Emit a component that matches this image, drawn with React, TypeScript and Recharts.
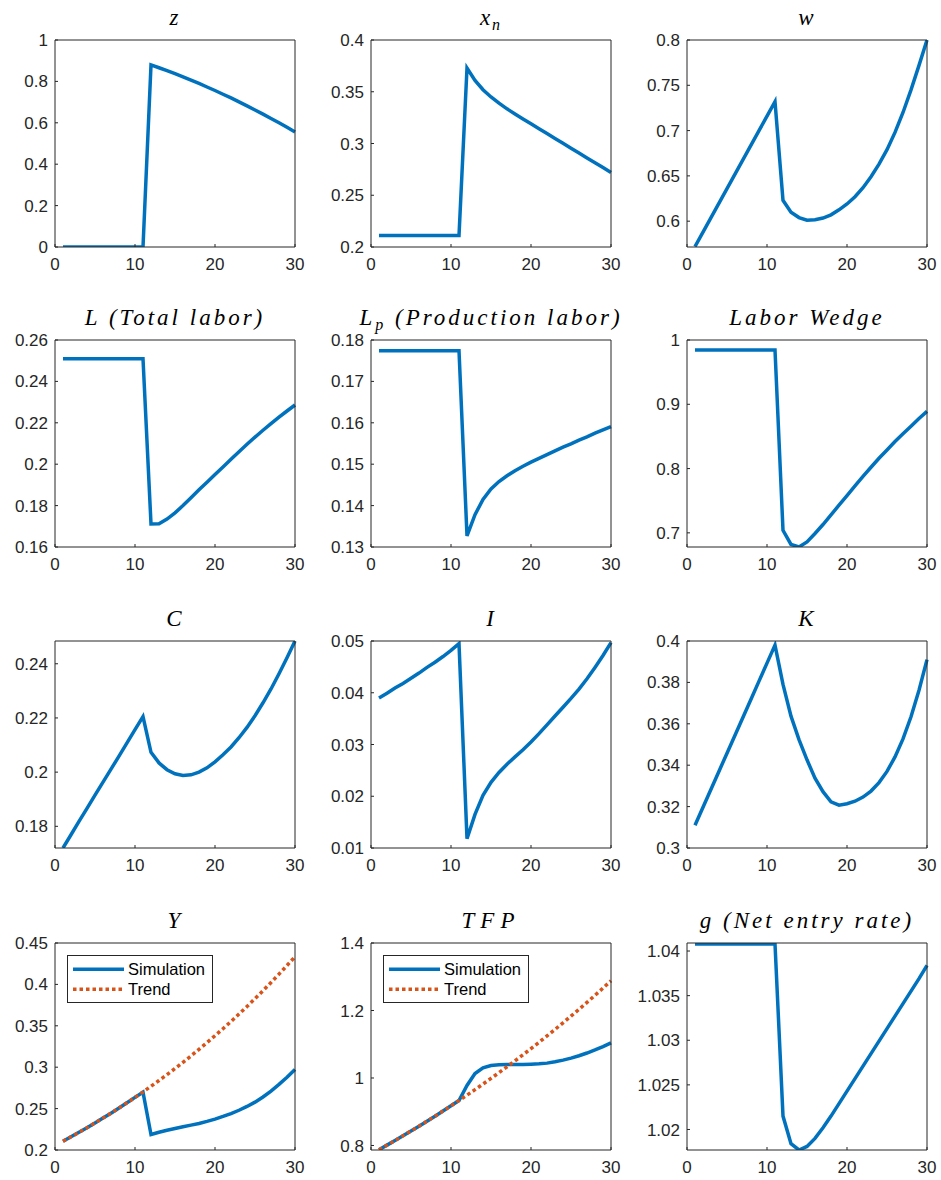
import React from 'react';
import { LineChart, Line, XAxis, YAxis, Legend } from 'recharts';

// ---------- data ----------
const periods = [1, 2, 3, 4, 5, 6, 7, 8, 9, 10, 11, 12, 13, 14, 15, 16, 17, 18, 19, 20, 21, 22, 23, 24, 25, 26, 27, 28, 29, 30];

const zVals = [0, 0, 0, 0, 0, 0, 0, 0, 0, 0, 0, 0.880, 0.866, 0.852, 0.837, 0.822, 0.806, 0.790, 0.773, 0.756, 0.738, 0.720, 0.701, 0.682, 0.662, 0.642, 0.621, 0.600, 0.578, 0.556];
const xnVals = [0.211, 0.211, 0.211, 0.211, 0.211, 0.211, 0.211, 0.211, 0.211, 0.211, 0.211, 0.373, 0.361, 0.352, 0.345, 0.339, 0.3335, 0.3285, 0.3237, 0.319, 0.3143, 0.3096, 0.3049, 0.3002, 0.2955, 0.2908, 0.2861, 0.2814, 0.2767, 0.272];
const wVals = [0.572, 0.588, 0.604, 0.620, 0.636, 0.652, 0.668, 0.684, 0.700, 0.716, 0.732, 0.623, 0.610, 0.604, 0.601, 0.6015, 0.6035, 0.607, 0.6125, 0.619, 0.627, 0.637, 0.649, 0.663, 0.679, 0.698, 0.720, 0.745, 0.772, 0.800];
const lVals = [0.251, 0.251, 0.251, 0.251, 0.251, 0.251, 0.251, 0.251, 0.251, 0.251, 0.251, 0.1711, 0.1712, 0.1735, 0.1765, 0.1800, 0.1838, 0.1876, 0.1913, 0.1950, 0.1987, 0.2024, 0.2060, 0.2096, 0.2131, 0.2164, 0.2196, 0.2227, 0.2257, 0.2286];
const lpVals = [0.1774, 0.1774, 0.1774, 0.1774, 0.1774, 0.1774, 0.1774, 0.1774, 0.1774, 0.1774, 0.1774, 0.1327, 0.1378, 0.1415, 0.1440, 0.1458, 0.1472, 0.1484, 0.1495, 0.1505, 0.1514, 0.1523, 0.1532, 0.1541, 0.1549, 0.1558, 0.1566, 0.1575, 0.1583, 0.1591];
const wedgeVals = [0.9845, 0.9845, 0.9845, 0.9845, 0.9845, 0.9845, 0.9845, 0.9845, 0.9845, 0.9845, 0.9845, 0.704, 0.682, 0.678, 0.686, 0.699, 0.713, 0.728, 0.743, 0.758, 0.773, 0.788, 0.802, 0.816, 0.829, 0.842, 0.854, 0.866, 0.878, 0.889];
const cVals = [0.172, 0.1769, 0.1818, 0.1866, 0.1915, 0.1963, 0.2011, 0.2059, 0.2108, 0.2157, 0.2205, 0.2073, 0.2034, 0.2009, 0.1994, 0.1988, 0.1990, 0.2000, 0.2016, 0.2038, 0.2064, 0.2093, 0.2127, 0.2165, 0.2208, 0.2256, 0.2307, 0.2363, 0.2422, 0.2484];
const iVals = [0.0390, 0.0399, 0.0409, 0.0418, 0.0428, 0.0438, 0.0449, 0.0459, 0.0470, 0.0482, 0.0495, 0.0118, 0.0165, 0.0202, 0.0227, 0.0246, 0.0262, 0.0276, 0.0290, 0.0305, 0.0321, 0.0338, 0.0355, 0.0372, 0.0389, 0.0407, 0.0427, 0.0449, 0.0472, 0.0497];
const kVals = [0.311, 0.3197, 0.3284, 0.3371, 0.3458, 0.3545, 0.3632, 0.3719, 0.3806, 0.3893, 0.398, 0.379, 0.3637, 0.3524, 0.3426, 0.3337, 0.3272, 0.3223, 0.3207, 0.3214, 0.3226, 0.3246, 0.3275, 0.3316, 0.3370, 0.3440, 0.3527, 0.3634, 0.3762, 0.391];
const ySimVals = [0.2106, 0.2159, 0.2214, 0.2269, 0.2327, 0.2385, 0.2445, 0.2507, 0.2570, 0.2635, 0.2698, 0.2187, 0.2215, 0.2238, 0.2260, 0.2280, 0.2300, 0.2320, 0.2345, 0.2373, 0.2405, 0.2440, 0.2480, 0.2526, 0.2578, 0.2640, 0.2712, 0.2792, 0.2878, 0.2973];
const yTrendVals = [0.2106, 0.2159, 0.2214, 0.2269, 0.2327, 0.2385, 0.2445, 0.2507, 0.2570, 0.2635, 0.2701, 0.2769, 0.2839, 0.2911, 0.2984, 0.3059, 0.3136, 0.3216, 0.3297, 0.3380, 0.3465, 0.3552, 0.3642, 0.3733, 0.3828, 0.3924, 0.4023, 0.4124, 0.4228, 0.4335];
const tfpSimVals = [0.7876, 0.8011, 0.8148, 0.8287, 0.8429, 0.8573, 0.8720, 0.8869, 0.9021, 0.9175, 0.9332, 0.978, 1.013, 1.030, 1.037, 1.039, 1.040, 1.040, 1.040, 1.041, 1.042, 1.044, 1.048, 1.053, 1.059, 1.066, 1.074, 1.083, 1.093, 1.104];
const tfpTrendVals = [0.7876, 0.8011, 0.8148, 0.8287, 0.8429, 0.8573, 0.8720, 0.8869, 0.9021, 0.9175, 0.9332, 0.9492, 0.9654, 0.9819, 0.9987, 1.0158, 1.0332, 1.0508, 1.0688, 1.0871, 1.1057, 1.1246, 1.1438, 1.1634, 1.1833, 1.2035, 1.2241, 1.2450, 1.2663, 1.2880];
const gVals = [1.0408, 1.0408, 1.0408, 1.0408, 1.0408, 1.0408, 1.0408, 1.0408, 1.0408, 1.0408, 1.0408, 1.0215, 1.0184, 1.0177, 1.0181, 1.0190, 1.0202, 1.0215, 1.0229, 1.0243, 1.0257, 1.0271, 1.0285, 1.0299, 1.0313, 1.0327, 1.0341, 1.0355, 1.0369, 1.0384];

const xTicks = [0, 10, 20, 30];
const zTicks = [0, 0.2, 0.4, 0.6, 0.8, 1];
const xnTicks = [0.2, 0.25, 0.3, 0.35, 0.4];
const wTicks = [0.6, 0.65, 0.7, 0.75, 0.8];
const lTicks = [0.16, 0.18, 0.2, 0.22, 0.24, 0.26];
const lpTicks = [0.13, 0.14, 0.15, 0.16, 0.17, 0.18];
const wedgeTicks = [0.7, 0.8, 0.9, 1];
const cTicks = [0.18, 0.2, 0.22, 0.24];
const iTicks = [0.01, 0.02, 0.03, 0.04, 0.05];
const kTicks = [0.3, 0.32, 0.34, 0.36, 0.38, 0.4];
const yTicks = [0.2, 0.25, 0.3, 0.35, 0.4, 0.45];
const tfpTicks = [0.8, 1, 1.2, 1.4];
const gTicks = [1.02, 1.025, 1.03, 1.035, 1.04];

const legendNames = ['Simulation', 'Trend'];

// ---------- styling ----------
const BLUE = '#0072BD';
const ORANGE = '#D95319';
const AXIS = '#262626';
const SANS = '"Liberation Sans", Arial, Helvetica, sans-serif';
const SERIF = '"Liberation Serif", "Times New Roman", serif';

const COL_LEFT = [55, 371, 687];
const ROW_TOP = [40, 340, 641, 943];
const PLOT_W = 240;
const PLOT_H = 207;
const Y_AXIS_W = 55;
const X_AXIS_H = 30;
const TITLE_SPACE = 40;
const RIGHT_PAD = 10;
const CHART_W = Y_AXIS_W + PLOT_W + RIGHT_PAD;
const CHART_H = TITLE_SPACE + PLOT_H + X_AXIS_H;

type PanelDef = {
  id: string;
  title: React.ReactNode;
  ls: number;
  values: number[];
  trend?: number[];
  domain: [number, number];
  ticks: number[];
  col: number;
  row: number;
};

const sub = (s: string) => (
  <span style={{ fontSize: 16, position: 'relative', top: 5 }}>{s}</span>
);

const panels: PanelDef[] = [
  { id: 'z', title: 'z', ls: 2, values: zVals, domain: [0, 1], ticks: zTicks, col: 0, row: 0 },
  { id: 'xn', title: <>x{sub('n')}</>, ls: 2, values: xnVals, domain: [0.2, 0.4], ticks: xnTicks, col: 1, row: 0 },
  { id: 'w', title: 'w', ls: 2, values: wVals, domain: [0.5715, 0.8], ticks: wTicks, col: 2, row: 0 },
  { id: 'L', title: 'L (Total labor)', ls: 3, values: lVals, domain: [0.16, 0.26], ticks: lTicks, col: 0, row: 1 },
  { id: 'Lp', title: <>L{sub('p')} (Production labor)</>, ls: 3, values: lpVals, domain: [0.13, 0.18], ticks: lpTicks, col: 1, row: 1 },
  { id: 'wedge', title: 'Labor Wedge', ls: 3, values: wedgeVals, domain: [0.678, 1], ticks: wedgeTicks, col: 2, row: 1 },
  { id: 'C', title: 'C', ls: 2, values: cVals, domain: [0.172, 0.2484], ticks: cTicks, col: 0, row: 2 },
  { id: 'I', title: 'I', ls: 2, values: iVals, domain: [0.01, 0.05], ticks: iTicks, col: 1, row: 2 },
  { id: 'K', title: 'K', ls: 2, values: kVals, domain: [0.3, 0.4], ticks: kTicks, col: 2, row: 2 },
  { id: 'Y', title: 'Y', ls: 2, values: ySimVals, trend: yTrendVals, domain: [0.2, 0.45], ticks: yTicks, col: 0, row: 3 },
  { id: 'TFP', title: 'TFP', ls: 6, values: tfpSimVals, trend: tfpTrendVals, domain: [0.7866, 1.4], ticks: tfpTicks, col: 1, row: 3 },
  { id: 'g', title: 'g (Net entry rate)', ls: 3, values: gVals, domain: [1.0177, 1.0409], ticks: gTicks, col: 2, row: 3 },
];

const fmt = (v: number) => String(Number(v.toFixed(4)));

const renderLegend = () => (
  <div
    style={{
      width: 146,
      height: 48,
      border: `1px solid ${AXIS}`,
      background: '#fff',
      boxSizing: 'border-box',
      position: 'relative',
      fontFamily: SANS,
      fontSize: 16.5,
      color: '#000',
    }}
  >
    <svg width={60} height={46} style={{ position: 'absolute', left: 0, top: 0 }}>
      <line x1={5} x2={56} y1={13.3} y2={13.3} stroke={BLUE} strokeWidth={3.5} />
      <line x1={5} x2={56} y1={33.3} y2={33.3} stroke={ORANGE} strokeWidth={3.5} strokeDasharray="3.5 3" />
    </svg>
    <div style={{ position: 'absolute', left: 60, top: 3.3, lineHeight: '20px', whiteSpace: 'nowrap' }}>{legendNames[0]}</div>
    <div style={{ position: 'absolute', left: 60, top: 23.3, lineHeight: '20px', whiteSpace: 'nowrap' }}>{legendNames[1]}</div>
  </div>
);

function Panel({ p }: { p: PanelDef }) {
  const data = periods.map((t, i) => ({
    t,
    sim: p.values[i],
    trend: p.trend ? p.trend[i] : undefined,
  }));
  const left = COL_LEFT[p.col] - Y_AXIS_W;
  const top = ROW_TOP[p.row] - TITLE_SPACE;
  const tickStyle = { fill: AXIS, fontSize: 17, fontFamily: SANS };
  return (
    <div style={{ position: 'absolute', left, top, width: CHART_W, height: CHART_H }}>
      <div
        style={{
          position: 'absolute',
          left: Y_AXIS_W + PLOT_W / 2 - 200,
          width: 400,
          top: 6,
          textAlign: 'center',
          fontFamily: SERIF,
          fontStyle: 'italic',
          fontSize: 23,
          lineHeight: '23px',
          letterSpacing: p.ls,
          whiteSpace: 'nowrap',
          color: '#000',
        }}
      >
        {p.title}
      </div>
      <LineChart
        width={CHART_W}
        height={CHART_H}
        data={data}
        margin={{ top: TITLE_SPACE - 1, right: RIGHT_PAD - 1, bottom: 0, left: 0 }}
      >
        <XAxis
          xAxisId="b"
          dataKey="t"
          type="number"
          domain={[0, 30]}
          ticks={xTicks}
          interval={0}
          height={X_AXIS_H}
          tickSize={-3}
          tickMargin={14}
          stroke={AXIS}
          tick={tickStyle}
        />
        <XAxis
          xAxisId="top"
          orientation="top"
          dataKey="t"
          type="number"
          domain={[0, 30]}
          ticks={xTicks}
          interval={0}
          height={1}
          tickSize={-3}
          tick={false}
          stroke={AXIS}
        />
        <YAxis
          yAxisId="l"
          type="number"
          domain={p.domain}
          ticks={p.ticks}
          interval={0}
          allowDataOverflow
          width={Y_AXIS_W}
          tickSize={-3}
          tickMargin={10}
          stroke={AXIS}
          tick={tickStyle}
          tickFormatter={fmt}
        />
        <YAxis
          yAxisId="r"
          orientation="right"
          type="number"
          domain={p.domain}
          ticks={p.ticks}
          interval={0}
          allowDataOverflow
          width={1}
          tickSize={-3}
          tick={false}
          stroke={AXIS}
        />
        <Line
          xAxisId="b"
          yAxisId="l"
          type="linear"
          dataKey="sim"
          name={legendNames[0]}
          stroke={BLUE}
          strokeWidth={3.5}
          dot={false}
          activeDot={false}
          isAnimationActive={false}
        />
        {p.trend && (
          <Line
            xAxisId="b"
            yAxisId="l"
            type="linear"
            dataKey="trend"
            name={legendNames[1]}
            stroke={ORANGE}
            strokeWidth={3.5}
            strokeDasharray="3.5 3"
            dot={false}
            activeDot={false}
            isAnimationActive={false}
          />
        )}
        {p.trend && (
          <Legend
            layout="vertical"
            align="center"
            verticalAlign="middle"
            content={renderLegend}
            wrapperStyle={{ position: 'absolute', left: Y_AXIS_W + 12, top: TITLE_SPACE + 12, width: 146, height: 48 }}
          />
        )}
      </LineChart>
    </div>
  );
}

export default function App() {
  return (
    <div style={{ position: 'absolute', left: 0, top: 0, width: 941, height: 1180, background: '#fff' }}>
      {panels.map((p) => (
        <Panel key={p.id} p={p} />
      ))}
    </div>
  );
}
